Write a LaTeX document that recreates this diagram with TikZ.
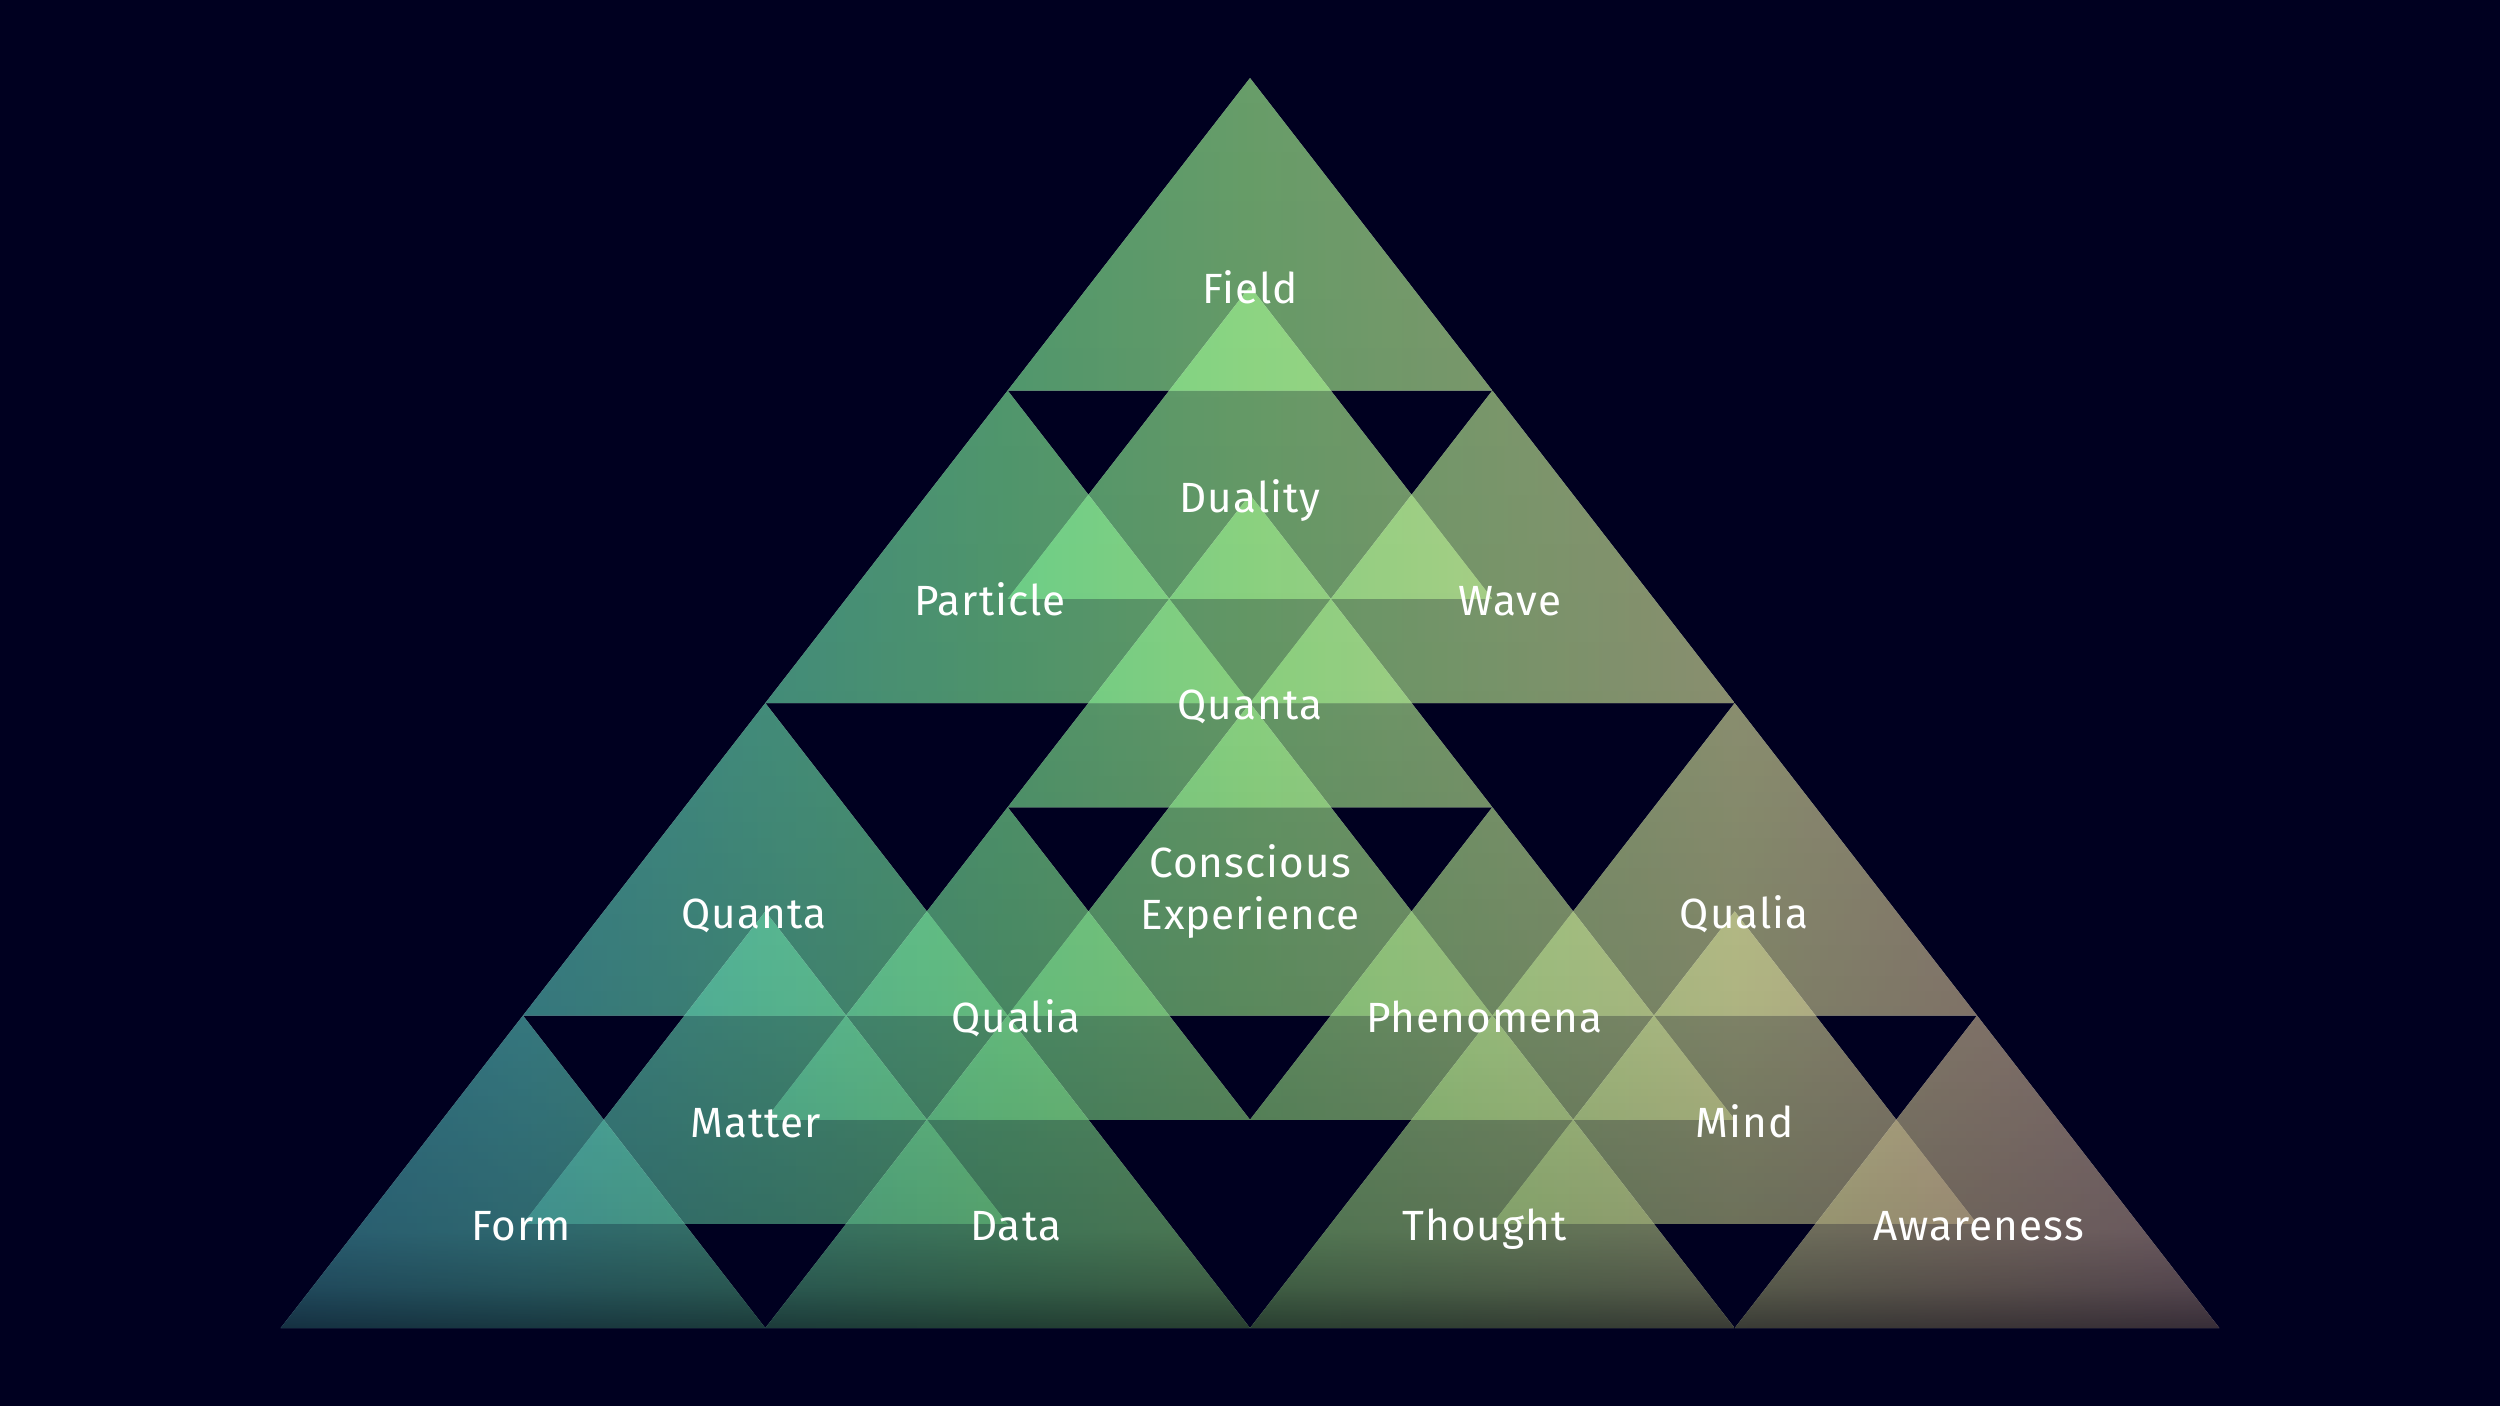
\documentclass[tikz,border=0pt]{standalone}
\usepackage{fontspec}
\setmainfont{Fira Sans}[LetterSpace=2.5]
\definecolor{bgnavy}{RGB}{0,0,32}
\definecolor{hA}{RGB}{88,198,218}
\definecolor{hB}{RGB}{100,222,212}
\definecolor{hC}{RGB}{114,238,186}
\definecolor{hD}{RGB}{134,250,160}
\definecolor{hE}{RGB}{168,254,150}
\definecolor{hF}{RGB}{202,250,158}
\definecolor{hG}{RGB}{234,242,168}
\definecolor{hH}{RGB}{236,212,170}
\definecolor{hI}{RGB}{225,185,178}
\definecolor{vA}{gray}{0.40}
\definecolor{vB}{gray}{0.60}
\definecolor{vC}{gray}{0.75}
\definecolor{vD}{gray}{0.87}
\definecolor{vE}{gray}{0.95}
\definecolor{vF}{gray}{1.00}
% horizontal hue: 25bp..75bp maps to x = 176..1392 (6.25bp = 152 units)
\pgfdeclarehorizontalshading{pyrhue}{100bp}{%
  color(0bp)=(hA); color(25bp)=(hA); color(31.25bp)=(hB); color(37.5bp)=(hC);
  color(43.75bp)=(hD); color(50bp)=(hE); color(56.25bp)=(hF); color(62.5bp)=(hG);
  color(68.75bp)=(hH); color(75bp)=(hI); color(100bp)=(hI)}
% vertical darkening: 25bp..75bp maps to y = 49..833 (1bp = 15.68 units)
\pgfdeclareverticalshading{pyrshade}{100bp}{%
  color(0bp)=(vA); color(25bp)=(vA); color(26.66bp)=(vB); color(28.89bp)=(vC);
  color(37.5bp)=(vD); color(50bp)=(vE); color(75bp)=(vF); color(100bp)=(vF)}
\newcommand\pyrtri[2]{% apex x, apex y
  \begin{scope}[transparency group, opacity=0.62]
    \clip (#1,#2) -- (#1-152,#2-196) -- (#1+152,#2-196) -- cycle;
    \shade[shading=pyrhue] (176,49) rectangle (1392,833);
    \shade[shading=pyrshade, blend mode=multiply] (176,49) rectangle (1392,833);
  \end{scope}}
\tikzset{lbl/.style={text=white, font=\fontsize{26.5}{32}\selectfont, anchor=base, inner sep=0pt}}
\begin{document}
\begin{tikzpicture}[x=1pt, y=1pt]
\fill[bgnavy] (0,0) rectangle (1568,882);
\useasboundingbox (0,0) rectangle (1568,882);
% triangles
\pyrtri{784}{833}      % Field
\pyrtri{784}{702.333}  % Duality
\pyrtri{632}{637}      % Particle
\pyrtri{936}{637}      % Wave
\pyrtri{784}{571.667}  % Quanta (centre)
\pyrtri{784}{441}      % Conscious Experience
\pyrtri{480}{441}      % Quanta (left)
\pyrtri{1088}{441}     % Qualia (right)
\pyrtri{632}{375.667}  % Qualia (middle)
\pyrtri{936}{375.667}  % Phenomena
\pyrtri{480}{310.333}  % Matter
\pyrtri{1088}{310.333} % Mind
\pyrtri{328}{245}      % Form
\pyrtri{632}{245}      % Data
\pyrtri{936}{245}      % Thought
\pyrtri{1240}{245}     % Awareness
% labels
\node[lbl] (field) at (784,691.7) {Field};
\node[lbl] (duality) at (784,560.7) {Duality};
\node[lbl] (particle) at (621,495.7) {Particle};
\node[lbl] (wave) at (947,495.7) {Wave};
\node[lbl] (quantac) at (784,430.7) {Quanta};
\node[lbl] (ce1) at (784,331.7) {Conscious};
\node[lbl] (ce2) at (784,298.7) {Experience};
\node[lbl] (quantal) at (473,299.7) {Quanta};
\node[lbl] (qualiar) at (1094,299.7) {Qualia};
\node[lbl] (qualiam) at (637,234.7) {Qualia};
\node[lbl] (phenomena) at (931,234.7) {Phenomena};
\node[lbl] (matter) at (474,168.7) {Matter};
\node[lbl] (mind) at (1094,168.7) {Mind};
\node[lbl] (form) at (327,103.7) {Form};
\node[lbl] (data) at (637,103.7) {Data};
\node[lbl] (thought) at (931,103.7) {Thought};
\node[lbl] (awareness) at (1241,103.7) {Awareness};
\end{tikzpicture}
\end{document}
